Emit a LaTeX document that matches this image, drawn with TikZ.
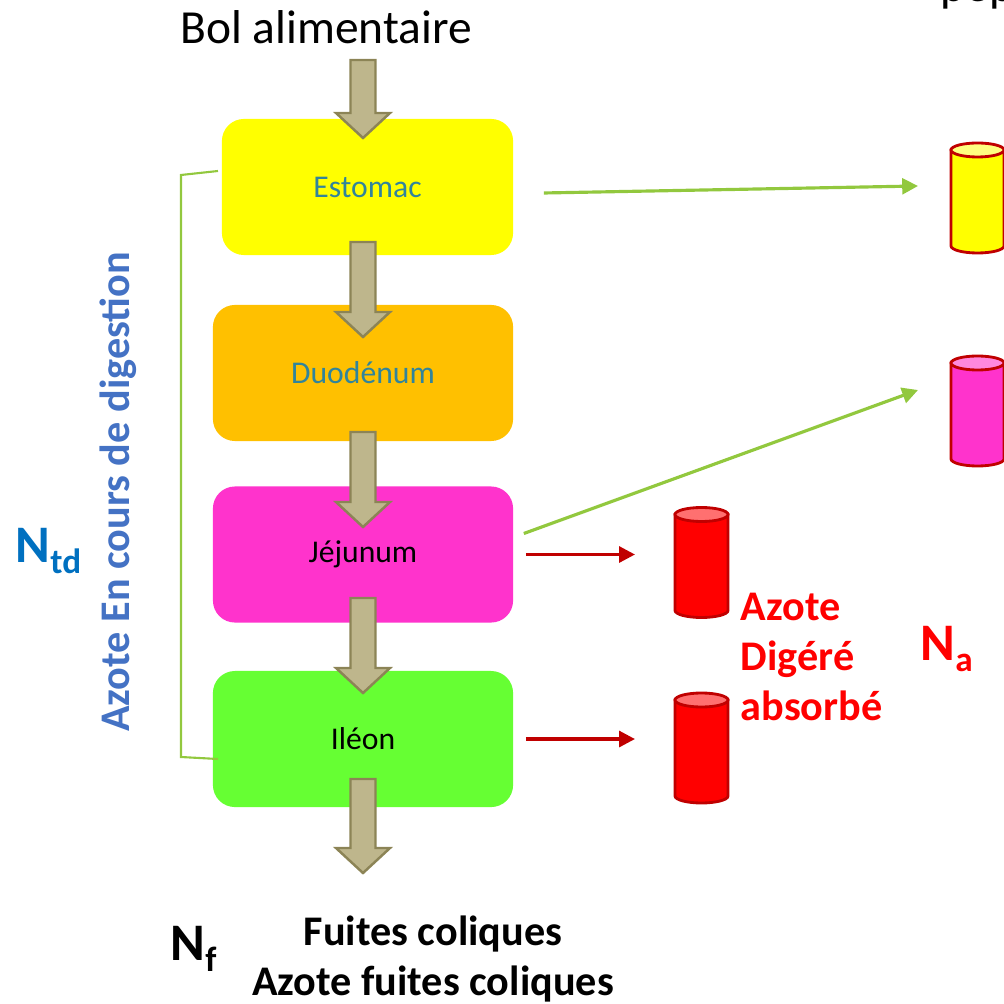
\documentclass[tikz,border=0pt]{standalone}
\usepackage{fontspec}
\setmainfont{Carlito}
\usetikzlibrary{arrows.meta,positioning}

\definecolor{stomach}{HTML}{FFFF00}
\definecolor{duoden}{HTML}{FFC000}
\definecolor{jejun}{HTML}{FF33CC}
\definecolor{ileum}{HTML}{66FF33}
\definecolor{tealtext}{HTML}{31849B}
\definecolor{khaki}{HTML}{BEB68C}
\definecolor{khakiline}{HTML}{8C8456}
\definecolor{leaf}{HTML}{92C83E}
\definecolor{darkred}{HTML}{C00000}
\definecolor{lidyellow}{HTML}{FFFF80}
\definecolor{lidpink}{HTML}{FF88DD}
\definecolor{lidred}{HTML}{FF7070}
\definecolor{ntdblue}{HTML}{0070C0}
\definecolor{sideblue}{HTML}{4472C4}

% a tank: name of its west side, centre, body colour, lid colour
\newcommand{\tank}[4]{%
  \begin{scope}[shift={#2}]
    \draw[tankline, fill=#3] (-26.5,-48) -- (-26.5,48)
      arc[start angle=180, end angle=0, x radius=26.5, y radius=7]
      -- (26.5,-48) -- cycle;
    \draw[tankline, fill=#4] (0,-48) ellipse[x radius=26.5, y radius=7];
    \coordinate (#1) at (-26.5,0);
  \end{scope}}

% a big down arrow: top point, length
\newcommand{\bigarrow}[2]{%
  \draw[arrowbody, shift={#1}] (-12.5,0) -- (-12.5,#2-25) -- (-27,#2-25)
    -- (0,#2) -- (27,#2-25) -- (12.5,#2-25) -- (12.5,0) -- cycle;}

% subscript set low, as in the slide
\newcommand{\lowsub}[1]{\raisebox{-3.4pt}{\fontsize{10}{12}\selectfont #1}}

\begin{document}
\begin{tikzpicture}[x=0.01cm, y=-0.01cm,
    organ/.style={rounded corners=0.22cm, minimum width=3cm,
      minimum height=1.36cm, inner sep=0pt, font=\fontsize{9}{11}\selectfont},
    arrowbody/.style={fill=khaki, draw=khakiline, line width=0.7pt, line join=miter},
    tankline/.style={draw=darkred, line width=0.8pt},
    greenarrow/.style={draw=leaf, line width=0.9pt,
      -{Triangle[length=4.5pt, width=4.5pt]}},
    redarrow/.style={draw=darkred, line width=0.9pt,
      -{Triangle[length=4.5pt, width=4.5pt]}},
    bigtext/.style={inner sep=0pt, font=\bfseries\fontsize{12}{14.2}\selectfont},
    ntext/.style={inner sep=0pt, font=\bfseries\fontsize{15}{17}\selectfont}]
  \useasboundingbox (0,0) rectangle (1004,1004);

  % the digestive tract
  \node[organ, fill=stomach, minimum width=2.91cm, text=tealtext] (estomac) at (367.5,187) {Estomac};
  \node[organ, fill=duoden, text=tealtext] (duodenum) at (363,373) {Duodénum};
  \node[organ, fill=jejun, below=0.44cm of duodenum] (jejunum) {Jéjunum};
  \node[organ, fill=ileum, below=0.47cm of jejunum] (ileon) {Iléon};

  % the bracket on the left
  \draw[leaf, line width=0.6pt] (218,171) -- (181,175) -- (181,757) -- (218,759);

  \bigarrow{(363,60)}{78}
  \bigarrow{(363,242)}{95}
  \bigarrow{(363,432)}{95}
  \bigarrow{(363,598)}{95}
  \bigarrow{(363,779)}{94}

  % tanks
  \tank{yellowtank}{(977.5,198)}{stomach}{lidyellow}
  \tank{pinktank}{(977.5,411)}{jejun}{lidpink}
  \tank{redtankA}{(701.5,562.5)}{red}{lidred}
  \tank{redtankB}{(701.5,748)}{red}{lidred}

  \draw[greenarrow] ([shift={(30,6)}]estomac.east) -- ([shift={(-33,-12)}]yellowtank);
  \draw[greenarrow] ([shift={(10,-21)}]jejunum.east) -- ([shift={(-33,-21)}]pinktank);
  \draw[redarrow, shorten <=0.12cm, shorten >=0.4cm] (jejunum.east) -- (jejunum.east -| redtankA);
  \draw[redarrow, shorten <=0.12cm, shorten >=0.4cm] (ileon.east) -- (ileon.east -| redtankB);

  % labels
  \node[anchor=base, font=\fontsize{13.5}{16}\selectfont] (bol) at (326,44) {Bol alimentaire};
  \node[inner sep=0pt, anchor=base west, font=\fontsize{13.5}{16}\selectfont] (pep) at (940,2) {pep};
  \node[bigtext, anchor=base west, align=left, text=red] (digere) at (740,720) {Azote\\Digéré\\absorbé};
  \node[ntext, anchor=base west, text=red] (na) at (920,660) {N\lowsub{a}};
  \node[ntext, anchor=base west, text=ntdblue] (ntd) at (15,562) {N\lowsub{td}};
  \node[ntext, anchor=base west] (nf) at (170,960) {N\lowsub{f}};
  \node[bigtext, anchor=base, align=center] (fuites) at (433,995) {Fuites coliques\\Azote fuites coliques};
  \node[bigtext, rotate=90, anchor=base, text=sideblue] (encours) at (129,492) {Azote En cours de digestion};
\end{tikzpicture}
\end{document}
